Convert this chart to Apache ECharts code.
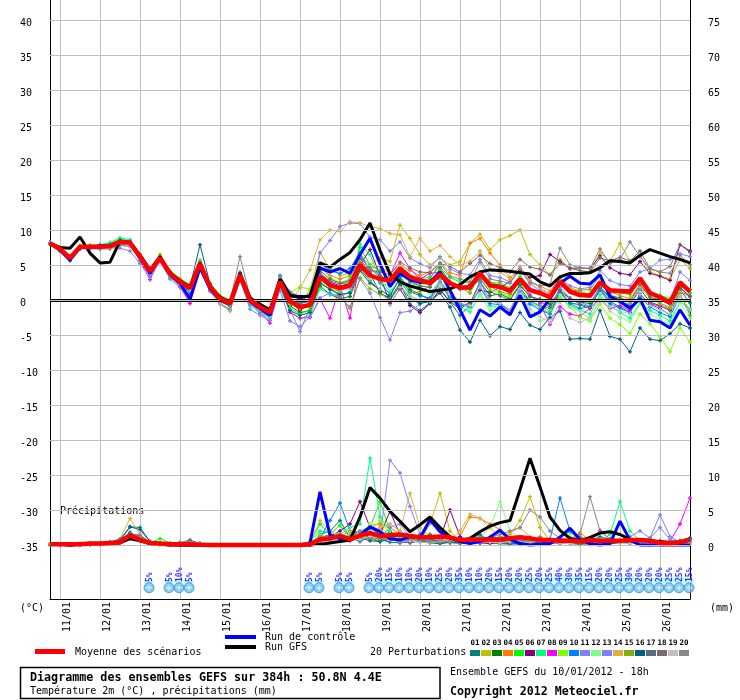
<!DOCTYPE html>
<html><head><meta charset="utf-8">
<script src="https://cdn.jsdelivr.net/npm/echarts@6/dist/echarts.min.js"></script>
<style>html,body{margin:0;padding:0;background:#fff}#c{width:740px;height:700px}</style>
</head><body><div id="c"></div>
<script>
// ---------- DATA ----------
const RUN_START_UTC = Date.UTC(2012, 0, 10, 18); // 10/01/2012 18h
const STEP_HOURS = 6;
const STEP_COUNT = 65;               // 0..384h
const TEMP_TICKS = [-35,-30,-25,-20,-15,-10,-5,0,5,10,15,20,25,30,35,40];
const PRECIP_TICKS = [0,5,10,15,20,25,30,35,40,45,50,55,60,65,70,75];
const MEMBER_NAMES = ['01','02','03','04','05','06','07','08','09','10','11','12','13','14','15','16','17','18','19','20'];
const MEMBER_COLORS = ['#008080','#c0c000','#008000','#ff8000','#00ff00','#800080','#00ff80','#ff00ff','#80ff00','#0080ff',
                       '#8080ff','#80ff80','#8080ff','#e0b040','#80b000','#006080','#507080','#806870','#c0c0c0','#888888'];

const TEMP_MEAN = [8.1,7.3,6.0,7.6,7.6,7.6,7.7,8.3,8.2,6.2, 4.1,6.0,3.8,2.6,1.7,5.2,1.9,0.2,-0.5,3.6,
  0.0,-1.0,-1.8,2.6,-0.2,-1.0,-0.7,3.3,2.1,1.7, 2.1,5.0,3.5,3.0,2.8,4.5,3.3,2.8,2.4,3.6,
  2.4,1.8,1.8,3.8,2.1,1.9,1.3,3.0,1.4,1.0, 0.4,2.6,1.2,0.7,0.6,2.5,1.4,1.3,1.2,3.1, 1.0,0.4,-0.4,2.5,1.2];
const TEMP_CONTROL = [8.1,7.1,5.7,7.5,7.6,7.7,7.8,8.3,8.2,6.0, 3.8,6.0,3.6,2.4,0.1,4.6,1.6,0.0,-0.6,3.4,
  -0.2,-1.2,-2.2,2.8,0.7,0.3,0.6,4.6,4.0,4.5, 3.8,6.5,8.8,5.2,1.9,3.8,2.9,2.5,2.6,4.0,
  1.4,-1.4,-4.3,-1.4,-2.3,-1.0,-2.1,0.7,-2.4,-1.7, 0.2,2.4,3.4,2.4,2.3,3.6,0.5,-0.2,-1.2,0.2, -2.9,-3.1,-4.0,-1.4,-3.6];
const TEMP_GFS = [8.1,7.5,7.4,9.0,6.7,5.3,5.4,8.4,8.2,6.4, 4.3,6.2,3.9,2.8,1.9,5.3,2.0,0.4,-0.3,3.8,
  0.3,-0.6,-1.4,3.0,0.6,0.5,0.5,5.3,4.7,5.8, 6.8,8.6,11.0,7.1,3.7,2.6,2.0,1.6,1.2,1.4,
  1.6,2.2,3.3,4.0,4.3,4.2,4.1,3.9,3.7,2.6, 2.0,3.3,3.8,3.8,3.9,4.6,5.6,5.5,5.3,6.4, 7.2,6.7,6.2,5.8,5.3];

const T01 = [8.2,7.2,5.6,7.5,7.7,7.9,8.0,8.6,8.5,6.5, 4.3,6.2,4.0,2.9,1.4,5.6,2.2,0.4,-0.3,3.9, 0.3,-1.2,-2.2,2.8,0.2,
  -0.5,-0.2,3.6,2.5,1.5, 1.8,5.6,3.8,1.0,0.2, 2.3,-0.6,-1.5,-0.4,1.5, -0.3,-2.2,-0.8,1.8,0.0, -0.6,-1.5,1.8,-0.2,-0.8, -1.6,1.2,-0.4,-0.7,-1.2, 1.6,-0.2,-1.0,-1.8,0.9, -0.6,-1.2,-2.2,1.4,-0.4];
const T02 = [8.0,7.4,6.3,7.7,7.8,7.5,7.6,8.2,8.0,6.0, 3.9,5.8,3.5,2.2,1.5,5.0,1.6,-0.2,-0.8,3.3, -0.3,-1.3,-2.0,2.3,0.3,
  -0.8,1.5,6.8,4.5,3.5, 3.8,6.2,5.0,6.0,5.5, 10.7,8.8,6.5,5.0,6.0, 5.0,5.5,8.1,9.4,7.2, 8.6,9.2,10.0,6.5,5.0, 3.6,5.8,4.5,4.2,4.0, 6.8,5.5,8.1,5.5,6.4, 4.0,3.5,3.0,5.8,4.5];
const T03 = [8.1,7.0,5.8,7.3,7.5,7.4,7.5,8.1,8.4,6.3, 4.0,5.9,3.4,2.0,1.2,4.8,1.5,-0.2,-0.9,3.2, -0.4,-1.5,-2.4,2.2,-0.8,
  -1.8,-1.5,2.0,0.8,0.2, 0.5,4.2,2.4,1.5,0.5, 3.3,1.5,0.8,0.0,2.4, 0.3,-0.9,-0.5,2.6,0.6, 0.9,0.2,2.2,0.5,0.1, -0.6,1.4,0.2,-0.3,-0.5, 1.8,0.2,-0.2,-0.8,1.6, -0.3,-0.8,-1.5,1.7,0.5];
const T04 = [8.0,7.5,6.2,7.8,7.5,7.7,7.9,8.4,8.0,5.8, 3.7,6.5,3.9,2.7,2.0,5.3,2.0,0.3,-0.4,3.8, 0.2,-0.8,-1.6,2.9,0.4,
  0.3,0.6,4.6,3.5,3.0, 3.5,5.5,4.5,4.8,3.8, 5.0,4.2,3.5,4.0,5.3, 3.9,3.5,8.1,8.8,6.7, 5.0,3.2,4.2,2.6,2.0, 1.3,3.1,1.8,1.2,0.8, 2.6,1.2,0.6,0.2,2.2, 0.8,0.2,-0.4,2.0,1.5];
const T05 = [8.2,7.1,5.9,7.6,7.4,7.8,8.1,8.7,8.3,5.5, 3.8,5.7,3.2,2.3,1.3,4.9,1.4,0.0,-0.7,3.0, -0.2,-1.6,-2.5,2.0,-1.2,
  -2.0,-1.4,2.6,1.5,1.3, 3.2,7.5,5.0,4.2,3.0, 4.6,3.4,3.0,3.3,4.8, 3.2,2.6,2.4,4.0,2.5, 2.4,1.7,3.4,1.6,1.1, 0.6,2.9,1.5,0.9,0.8, 2.7,1.3,1.0,0.8,3.0, 1.2,0.7,0.2,2.5,1.0];
const T06 = [8.1,7.3,6.1,7.7,7.7,7.6,7.8,8.5,8.1,6.4, 4.4,6.1,3.9,2.6,1.8,5.4,2.0,0.4,-0.3,3.7, 0.1,-0.9,-1.7,2.7,-0.3,
  -1.5,-0.5,3.8,2.6,2.0, 2.3,5.0,7.2,3.5,-0.5, 1.6,-0.8,-1.8,-0.5,1.5, -0.2,-1.3,-0.3,1.4,1.1, 1.8,2.6,4.2,3.2,3.5, 6.5,5.5,4.5,4.6,4.5, 6.3,4.6,3.8,3.6,5.5, 3.8,3.4,2.8,7.9,7.0];
const T07 = [8.0,7.2,5.7,7.4,7.6,7.9,8.2,8.9,8.6,5.9, 3.6,5.8,3.3,2.1,1.0,4.7,1.2,-0.5,-1.3,2.8, -0.8,-1.9,-2.6,1.7,-1.6,
  -2.6,-2.2,1.6,0.8,0.5, 1.2,8.0,6.5,3.0,1.2, 2.8,0.6,-0.2,-0.3,2.4, 0.1,-1.1,-1.7,0.8,-0.8, -1.1,-2.0,1.5,-0.5,-1.0, -2.0,0.4,-0.8,-1.4,-2.0, 0.8,-0.8,-1.8,-2.6,-0.4, -1.5,-2.2,-3.0,-0.3,-1.2];
const T08 = [8.2,7.4,6.1,7.6,7.5,7.6,7.6,8.0,8.1,5.6, 2.9,6.0,3.6,1.9,-0.5,4.8,1.6,-0.1,-0.8,3.3, -0.5,-1.7,-3.3,2.4,-1.8,
  -2.6,-2.5,0.2,-2.6,2.0, -2.6,5.8,4.0,2.6,3.5, 6.7,4.5,3.0,3.8,4.0, 2.5,1.6,2.2,3.5,1.9, 1.7,1.0,2.8,0.7,-0.5, -3.5,-1.0,-2.0,-2.3,-1.2, 0.2,-1.2,-0.8,-1.5,0.6, -0.5,-0.9,-1.3,1.2,0.6];
const T09 = [8.0,7.5,6.0,7.5,7.9,7.7,7.6,8.3,8.0,6.6, 4.6,6.3,4.2,3.1,2.2,5.7,2.4,0.7,0.0,4.0, 0.5,-0.5,-1.4,3.1,1.0,
  1.9,1.5,5.0,3.2,2.5, 3.0,5.5,4.0,2.5,2.0, 4.0,2.8,2.0,2.5,4.4, 2.5,1.8,1.4,3.2,1.5, 1.0,0.5,2.8,0.0,-1.0, -1.5,0.4,-1.0,-2.5,-3.0, -0.6,-2.6,-3.5,-4.8,-2.0, -3.4,-5.2,-7.4,-4.0,-6.0];
const T10 = [8.1,7.3,5.8,7.6,7.7,7.6,7.7,8.2,8.3,6.0, 3.8,5.9,3.7,2.4,1.0,5.0,1.8,0.2,-0.7,3.5, -0.1,-1.1,-2.0,3.5,1.0,
  0.4,0.8,5.2,4.2,3.8, 4.5,6.8,4.0,2.5,0.8, 3.0,1.2,0.6,0.3,2.9, 0.5,-0.6,-1.0,1.8,-0.5, -0.7,-1.5,1.3,-0.6,-1.4, -2.0,1.0,-0.5,-1.2,-1.0, 1.4,-0.5,-1.2,-1.8,0.5, -1.0,-1.8,-2.4,0.6,-1.5];
const T11 = [8.0,7.0,5.7,7.3,7.3,7.3,7.4,8.0,7.9,5.7, 3.5,5.6,3.3,2.3,1.3,4.8,1.3,-0.6,-1.4,3.1, -0.6,-1.6,-2.4,2.2,-1.4,
  -4.5,-1.0,6.7,8.5,10.5, 11.0,10.9,9.0,8.6,7.0, 8.3,6.0,5.2,4.6,6.2, 4.4,3.8,3.6,5.8,3.5, 3.2,2.6,4.4,2.3,1.4, 1.0,3.2,2.0,1.6,1.8, 4.2,2.8,2.2,2.0,4.0, 4.5,5.7,5.8,6.6,6.2];
const T12 = [8.2,7.3,6.0,7.7,7.6,7.5,7.8,8.4,8.2,6.3, 4.2,6.1,3.9,2.7,1.6,5.1,1.7,0.0,-0.7,3.4, -0.3,-1.4,-2.3,2.5,-0.6,
  -1.2,-0.8,2.8,2.0,1.8, 2.3,5.3,3.6,2.8,1.9, 3.8,2.4,1.8,0.9,2.8, 1.0,-0.3,-1.4,0.7,-1.5, -1.0,-1.8,1.5,-1.8,-3.0, -2.4,0.8,-1.0,-1.6,-2.8, 0.3,-1.6,-2.5,-3.1,-0.6, -2.0,-2.8,-3.5,-0.4,-2.6];
const T13 = [8.1,7.2,5.9,7.5,7.6,7.5,7.5,7.4,7.0,5.2, 3.2,5.5,3.0,1.8,0.6,4.5,1.3,-0.4,-1.5,2.9, -1.3,-2.2,-2.9,1.4,-3.0,
  -3.8,-2.4,0.3,1.0,0.5, -1.0,3.0,1.0,-2.5,-5.7, -1.8,-1.6,-0.6,0.2,2.6, 0.2,-0.5,-0.8,2.5,0.0, -0.4,-1.5,1.4,-0.2,-0.8, -1.2,1.8,0.3,-0.3,-0.9, 2.0,0.3,-0.3,-0.6,1.6, 1.0,0.5,-0.3,4.0,2.8];
const T14 = [8.1,7.4,6.2,7.6,7.5,7.7,7.8,8.3,8.0,6.1, 3.9,5.9,3.5,2.3,1.6,5.3,1.6,-0.6,-1.6,3.4, -0.2,-1.0,-1.9,2.7,-0.4,
  1.7,4.3,8.6,10.0,9.8, 11.2,11.0,10.5,10.2,9.5, 9.3,6.2,8.8,7.0,7.8, 6.2,5.0,5.5,7.0,4.4, 4.0,3.0,4.8,2.8,1.8, 0.8,2.8,1.6,1.0,0.6, 2.6,0.8,0.2,-0.3,1.8, 0.3,-0.5,-1.0,1.2,0.4];
const T15 = [8.0,7.3,6.1,7.6,7.6,7.6,7.6,8.1,8.1,6.1, 4.2,6.1,3.7,2.5,1.8,5.3,2.0,0.3,-0.5,3.7, 0.0,-0.9,-1.7,2.5,-0.5,
  -1.2,-1.0,3.3,1.8,0.4, -1.2,3.2,1.6,0.8,0.2, 2.5,1.0,1.2,2.0,4.2, 2.6,1.8,1.0,3.6,1.9, 1.2,0.8,2.7,1.5,1.0, 0.2,2.4,1.3,1.4,1.5, 3.5,1.0,1.2,0.8,3.0, 0.5,-0.5,-1.2,0.9,-2.2];
const T16 = [8.2,7.1,5.7,7.4,7.6,7.8,7.9,8.5,8.3,6.3, 4.3,6.2,4.0,2.6,1.9,7.9,2.3,0.5,-0.2,3.9, 0.0,-1.0,-2.0,2.2,-1.5,
  -2.2,-1.8,2.4,1.5,0.8, 1.0,4.4,2.8,1.2,0.0, 2.1,0.2,-0.5,-0.2,1.0, -1.0,-4.3,-6.0,-2.9,-5.1, -3.8,-4.2,-1.8,-3.6,-4.2, -2.5,-1.6,-5.6,-5.5,-5.6, -1.5,-5.2,-5.6,-7.4,-4.0, -5.6,-5.8,-4.8,-3.4,-4.0];
const T17 = [8.0,7.2,5.9,7.6,7.6,7.6,7.7,8.3,8.3,6.2, 4.0,6.0,3.8,2.6,1.7,5.2,1.9,0.1,-0.6,3.6, -0.1,-1.1,-1.9,2.5,-0.3,
  -0.6,0.2,4.2,3.0,2.4, 2.8,6.0,4.6,3.5,2.8, 4.2,2.6,2.0,1.8,4.6, 2.6,1.6,1.6,3.0,1.2, 0.6,0.0,2.0,0.6,-0.2, -1.0,1.2,0.2,-0.6,-1.0, 1.5,0.6,0.3,-0.2,2.2, 0.4,0.0,-0.6,1.8,0.5];
const T18 = [8.1,7.3,6.1,7.6,7.6,7.6,7.8,8.3,8.2,6.3, 4.1,5.9,3.8,2.6,1.8,5.2,1.9,0.3,-0.4,3.7, 0.1,-0.9,-1.7,2.7,0.0,
  -0.5,0.0,3.8,2.7,2.3, 2.5,5.3,4.2,4.0,3.6, 5.4,4.6,4.0,3.9,5.2, 4.8,4.0,5.2,6.4,5.2, 4.6,4.0,5.8,4.7,4.4, 3.6,5.2,4.6,4.2,4.0, 6.0,5.6,6.1,5.6,7.0, 4.5,4.0,4.8,7.9,6.8];
const T19 = [8.1,7.2,6.0,7.6,7.5,7.4,7.4,7.8,7.6,5.9, 4.0,5.8,3.6,2.5,1.5,5.0,1.7,0.2,-0.6,3.5, -0.1,-1.2,-2.0,2.5,-0.2,
  -1.0,-0.5,3.0,2.0,1.4, 1.6,4.6,2.9,1.5,-0.8, 1.8,0.6,0.0,-0.2,2.2, 0.8,0.0,-0.8,1.8,0.0, -0.5,-1.4,1.6,-1.3,-2.4, -3.2,-0.3,-2.6,-3.2,-2.5, -0.2,-1.0,-1.6,-2.0,0.8, -0.8,-1.4,-2.0,0.6,-1.4];
const T20 = [8.1,7.3,6.2,7.5,7.4,7.3,7.3,7.8,7.7,6.2, 4.1,6.0,4.0,2.9,1.9,5.5,2.1,0.4,-0.3,6.2, 0.5,-0.6,-1.3,3.3,1.2,
  0.4,0.5,3.5,2.4,1.6, 1.8,6.2,4.5,3.2,2.6, 4.3,3.3,2.8,3.0,5.3, 3.4,3.0,2.6,5.4,3.0, 2.7,2.4,4.5,2.5,2.0, 2.2,7.4,5.0,4.6,4.5, 7.3,5.2,5.8,8.3,6.2, 4.4,4.0,3.8,6.4,5.0];

const PRECIP_MEAN = [0.1,0.1,0.1,0.1,0.2,0.2,0.3,0.4,1.4,0.7, 0.3,0.2,0.1,0.1,0.1,0.05,0,0,0,0,
  0,0,0,0,0,0,0.1,0.8,0.95,1.3, 0.8,1.4,1.7,1.3,1.4,1.5,1.3,1.1,1.1,1.2,
  1.1,0.7,0.8,0.8,0.8,0.8,0.95,1.1,0.95,0.7, 0.7,0.6,0.6,0.5,0.7,0.6,0.6,0.6,0.7,0.7, 0.6,0.3,0.3,0.4,0.8];
const PRECIP_CONTROL = [0.1,0.1,0,0.1,0.1,0.2,0.3,0.4,1.2,0.8, 0.3,0.2,0.1,0,0,0,0,0,0,0,
  0,0,0,0,0,0,0.3,7.6,1.4,0.9, 0.7,1.4,2.6,1.9,0.9,0.7,1.2,1.0,3.6,1.9,
  1.0,0.5,0.2,0.5,1.1,2.1,0.8,0.2,0,0.1, 0.2,1.1,2.4,0.8,0.2,0,0.2,3.4,0.7,0, 0,0,0,0,0];
const PRECIP_GFS = [0.1,0.1,0,0.1,0.1,0.2,0.2,0.3,0.9,0.6, 0.2,0.1,0,0,0,0,0,0,0,0,
  0,0,0,0,0,0,0,0.1,0.3,0.5, 0.7,4.0,8.2,6.7,4.8,3.4,1.9,2.9,4.0,2.5,
  1.2,0.5,0.95,1.9,2.7,3.2,3.5,7.9,12.4,8.3, 4.0,2.1,0.95,0.6,1.1,1.7,1.9,1.5,0.8,0.7, 0.6,0.5,0.3,0.3,0.7];

const P01 = [0.1,0,0.1,0.1,0.2,0.2,0.3,0.6,2.6,2.5, 0.5,0.3,0.2,0.1,0.2,0.1,0,0,0,0, 0,0,0,0,0,
  0,0.2,1.5,2.0,3.5, 1.0,0.5,1.2,0.8,0.4, 0.3,0.6,1.0,0.5,0.2, 0.4,0.3,0.8,1.5,0.6, 0.2,0.1,0.3,0.2,0.1, 0.5,0.4,0.3,0.2,0.6, 1.2,0.8,0.4,0.3,0.2, 0.1,0.3,0.2,0.5,0.9];
const P02 = [0,0.1,0,0.1,0.1,0.2,0.2,0.4,1.0,0.6, 0.2,0.3,0.1,0,0,0,0,0,0,0, 0,0,0,0,0,
  0,0.3,1.2,0.8,1.0, 0.6,0.9,1.0,2.5,1.5, 1.0,0.8,0.6,3.0,7.4, 2.0,0.5,0.3,0.6,1.2, 0.8,1.5,3.5,6.9,2.5, 0.6,0.3,0.4,0.2,0.8, 0.5,0.3,0.6,0.4,0.3, 0.2,0.4,0.3,0.5,0.4];
const P03 = [0.1,0.1,0.1,0,0.1,0.3,0.2,0.5,1.2,0.8, 0.3,0.2,0.1,0,0,0,0,0,0,0, 0,0,0,0,0,
  0,0,0.8,1.2,0.8, 1.5,2.0,1.0,0.5,1.8, 1.2,0.6,0.4,1.5,0.8, 0.4,0.2,0.3,0.5,0.3, 0.2,0.6,0.4,0.2,0.3, 0.8,0.4,0.2,0.1,0.3, 0.5,0.2,0.3,0.4,0.2, 0.1,0.2,0.1,0.3,0.2];
const P04 = [0,0.1,0.1,0.1,0.2,0.2,0.3,0.5,1.5,1.0, 0.4,0.2,0.1,0,0,0,0,0,0,0, 0,0,0,0,0,
  0,0.3,1.0,1.5,1.2, 2.0,1.8,2.8,3.0,2.5, 1.5,0.8,0.6,0.4,0.5, 0.8,1.2,4.0,3.8,3.0, 2.2,1.0,0.6,0.8,1.2, 0.5,0.3,0.8,1.8,0.6, 0.4,0.3,0.5,0.6,0.4, 0.3,0.5,0.2,0.3,0.4];
const P05 = [0.1,0,0.1,0.2,0.1,0.2,0.4,0.6,1.8,0.9, 0.3,0.9,0.3,0.2,0.1,0,0,0,0,0, 0,0,0,0,0,
  0,0.4,3.0,1.5,2.8, 1.0,2.0,2.5,6.2,2.0, 1.0,0.8,1.5,0.6,0.4, 0.5,0.3,0.2,0.6,0.8, 1.2,0.6,0.3,0.2,0.3, 0.4,0.6,0.3,0.2,0.4, 0.6,0.3,0.5,0.8,0.3, 0.2,0.3,0.2,0.1,0.3];
const P06 = [0,0.1,0,0.1,0.1,0.1,0.2,0.4,1.0,0.7, 0.2,0.1,0.1,0,0,0,0,0,0,0, 0,0,0,0,0,
  0,0.1,0.8,1.2,2.0, 3.0,6.2,2.5,1.5,4.8, 1.5,0.8,0.6,0.5,0.9, 5.0,1.2,0.4,0.3,0.2, 0.4,0.6,0.3,0.5,0.8, 0.3,0.2,0.4,0.3,0.6, 0.5,0.3,0.4,0.2,0.3, 0.4,0.3,0.2,0.1,0.5];
const P07 = [0.1,0.1,0,0.1,0.2,0.2,0.3,0.7,1.6,1.2, 0.3,0.2,0.1,0.1,0,0,0,0,0,0, 0,0,0,0,0,
  0,0.5,2.0,1.8,1.5, 2.5,3.0,12.4,4.0,2.0, 1.2,0.8,0.6,0.3,0.4, 0.3,0.2,0.5,0.8,0.4, 0.6,0.3,0.5,1.0,0.6, 0.4,1.2,1.8,0.8,0.5, 0.6,1.5,6.2,2.0,0.6, 0.4,0.5,0.3,0.2,0.3];
const P08 = [0,0,0.1,0.1,0.2,0.1,0.3,0.5,1.4,1.5, 0.3,0.1,0.1,0,0,0,0,0,0,0, 0,0,0,0,0,
  0,0.1,0.5,0.8,1.0, 0.6,1.5,2.0,1.2,0.8, 0.5,0.3,0.6,0.4,0.8, 0.5,0.3,0.4,0.3,0.6, 0.8,0.5,0.3,0.2,0.4, 0.3,0.5,0.6,0.8,0.4, 2.1,0.8,0.5,0.3,0.4, 0.3,0.2,0.5,3.0,6.7];
const P09 = [0.1,0,0.1,0,0.1,0.2,0.4,0.5,1.2,0.9, 0.3,0.2,0.1,0,0,0,0,0,0,0, 0,0,0,0,0,
  0,0.3,1.5,1.0,1.2, 0.8,1.5,2.0,3.5,1.5, 0.6,0.4,1.0,0.8,0.5, 0.3,0.6,0.4,0.8,0.5, 0.3,0.2,0.4,0.6,0.3, 0.2,0.4,0.3,0.5,1.0, 0.8,0.4,0.3,0.5,0.3, 0.2,0.6,0.4,0.3,0.2];
const P10 = [0,0.1,0.1,0.1,0.2,0.2,0.3,0.6,1.8,1.0, 0.4,0.2,0.1,0,0,0,0,0,0,0, 0,0,0,0,0,
  0,0.2,1.0,3.5,6.0, 2.0,1.0,2.5,1.5,1.2, 0.8,0.6,0.5,0.4,0.6, 0.4,0.3,0.5,1.2,0.8, 0.4,0.3,0.2,0.5,0.6, 0.8,6.7,2.0,0.8,0.5, 0.4,0.3,0.5,0.6,0.3, 0.2,0.3,0.5,0.4,0.3];
const P11 = [0.1,0.1,0,0.1,0.1,0.3,0.2,0.5,1.1,0.8, 0.2,0.1,0.1,0,0,0,0,0,0,0, 0,0,0,0,0,
  0,0.2,0.8,1.0,1.5, 1.2,2.0,1.5,1.0,12.1, 10.3,5.5,1.5,0.8,0.5, 0.4,0.6,0.3,0.5,0.4, 0.3,0.5,0.8,0.6,0.4, 0.3,0.2,0.4,0.6,0.3, 0.5,0.8,0.4,0.6,0.5, 1.0,4.3,1.2,0.4,0.3];
const P12 = [0,0.1,0.1,0.1,0.1,0.2,0.3,0.4,1.3,0.8, 0.3,0.2,0.1,0,0,0,0,0,0,0, 0,0,0,0,0,
  0,0.3,1.2,0.8,1.0, 1.5,1.0,3.0,2.0,1.5, 1.0,0.8,0.5,0.6,0.5, 0.8,0.6,0.4,1.0,2.5, 6.2,2.0,0.8,0.6,0.4, 0.3,0.5,0.8,0.6,0.4, 0.3,0.5,0.4,0.6,0.3, 0.2,0.4,0.8,0.4,0.3];
const P13 = [0.1,0,0.1,0.1,0.2,0.2,0.3,0.5,1.5,1.0, 0.3,0.2,0.1,0.1,0,0,0,0,0,0, 0,0,0,0,0,
  0,0.1,1.0,0.6,0.8, 1.2,0.8,1.5,1.0,2.5, 3.0,1.2,0.6,0.5,0.8, 0.4,0.3,0.6,0.5,0.8, 1.0,0.6,0.4,0.8,0.5, 0.4,0.6,0.5,0.3,0.4, 0.6,0.8,0.5,1.2,2.0, 1.0,2.5,0.8,0.4,0.3];
const P14 = [0.1,0.1,0.1,0.2,0.2,0.3,0.4,0.9,3.8,1.5, 0.4,0.2,0.1,0,0,0,0,0,0,0, 0,0,0,0,0,
  0,0.3,3.5,2.0,1.2, 2.0,1.0,1.5,2.5,3.0, 2.0,7.4,2.5,1.2,0.6, 0.8,2.0,4.4,3.8,2.5, 1.0,1.8,2.5,1.2,0.8, 0.5,0.6,1.2,0.8,0.5, 0.4,0.3,0.6,0.5,0.3, 0.4,0.3,0.5,0.4,0.2];
const P15 = [0,0.1,0,0.1,0.1,0.2,0.3,0.4,1.0,0.7, 0.2,0.2,0.1,0,0,0,0,0,0,0, 0,0,0,0,0,
  0,0.2,1.0,0.8,1.5, 1.0,1.2,0.8,0.6,1.0, 0.8,0.5,1.2,0.8,0.4, 0.5,0.3,0.6,0.4,0.5, 0.8,0.4,0.3,0.5,0.6, 0.3,0.5,0.8,1.2,0.6, 0.4,0.3,0.6,0.5,0.4, 0.8,0.5,0.3,0.2,0.4];
const P16 = [0.1,0,0.1,0.1,0.2,0.2,0.4,0.8,2.6,2.2, 0.5,0.3,0.2,0.3,0.7,0.2,0,0,0,0, 0,0,0,0,0,
  0,0.1,0.6,1.0,1.2, 0.8,1.0,0.6,0.5,0.8, 0.5,0.4,0.6,0.3,0.2, 0.4,0.3,0.2,0.4,0.6, 0.3,0.2,0.1,0.3,0.4, 0.2,0.5,0.3,0.2,0.1, 0.3,0.2,0.4,0.3,0.2, 0.1,0.2,0.4,0.6,1.0];
const P17 = [0.1,0.1,0.1,0.1,0.1,0.2,0.3,0.6,1.6,1.3, 0.4,0.2,0.1,0.1,0,0,0,0,0,0, 0,0,0,0,0,
  0,0.2,0.8,1.2,0.9, 1.0,1.5,1.2,0.8,1.0, 0.6,0.8,1.5,0.8,0.5, 0.4,0.6,0.5,0.8,0.6, 0.5,0.4,0.6,1.0,0.5, 0.4,0.3,0.5,0.8,0.6, 0.5,0.4,0.6,0.5,0.4, 0.3,0.5,0.4,0.6,0.8];
const P18 = [0,0.1,0.1,0.1,0.2,0.2,0.3,0.5,1.2,0.9, 0.3,0.2,0.1,0,0,0,0,0,0,0, 0,0,0,0,0,
  0,0.3,1.0,1.5,0.8, 1.2,0.8,1.0,1.5,1.2, 0.8,0.6,0.5,0.8,0.6, 0.5,0.4,0.8,0.6,0.5, 0.4,0.3,0.6,0.8,1.0, 0.6,0.4,0.5,0.3,0.5, 0.8,0.6,0.4,0.5,0.3, 0.4,0.6,0.5,0.3,0.4];
const P19 = [0.1,0,0.1,0.1,0.1,0.2,0.3,0.5,1.2,0.9, 0.4,0.3,0.3,0.4,0.3,0.2,0,0,0,0, 0,0,0,0,0,
  0,0.2,0.6,0.5,0.8, 0.6,0.8,1.2,1.0,0.8, 0.5,0.6,0.4,0.3,0.5, 0.6,0.4,0.3,0.5,0.4, 0.3,0.5,0.4,0.3,0.6, 0.4,0.3,0.2,0.4,0.5, 0.3,0.4,0.3,0.2,0.3, 0.2,0.3,0.4,0.2,0.3];
const P20 = [0.1,0.1,0.1,0.1,0.2,0.2,0.3,0.6,1.5,1.2, 0.3,0.2,0.2,0.4,0.5,0.2,0,0,0,0, 0,0,0,0,0,
  0,0.2,1.2,0.8,1.5, 1.0,1.2,1.8,1.0,0.8, 0.6,1.0,0.8,0.5,0.4, 0.6,0.4,0.8,0.6,1.0, 1.5,2.0,2.5,5.0,4.0, 2.0,1.0,0.6,1.5,6.9, 2.0,0.8,0.5,0.6,0.4, 0.3,0.5,0.3,0.4,0.5];

const TEMP_MEMBERS = [T01,T02,T03,T04,T05,T06,T07,T08,T09,T10,T11,T12,T13,T14,T15,T16,T17,T18,T19,T20];
const PRECIP_MEMBERS = [P01,P02,P03,P04,P05,P06,P07,P08,P09,P10,P11,P12,P13,P14,P15,P16,P17,P18,P19,P20];

// snow probability row (step index, %)
const SNOW_STEP = [10,12,13,14,26,27,29,30,32,33,34,35,36,37,38,39,40,41,42,43,44,45,46,47,48,49,50,51,52,53,54,55,56,57,58,59,60,61,62,63,64];
const SNOW_PCT  = [5,5,10,5,5,5,5,5,5,20,15,10,10,20,10,25,20,35,10,10,20,15,20,20,25,20,25,40,30,35,15,20,20,25,30,20,20,20,25,25,15];

// ---------- LAYOUT ----------
const FONT = '"DejaVu Sans Mono", "Liberation Mono", monospace';
const PX_PER_DEG = 7;
const Y_MAX = 300 / PX_PER_DEG;      // plot top at pixel 0, 0°C at pixel 300
const Y_MIN = -299 / PX_PER_DEG;     // plot bottom at pixel 599
const PRECIP_OFFSET = 35;            // 0 mm sits on -35 °C
const ICON_ROW = -41.1;
const LABEL_ROW = -40.0;
const BAND_BASE = -40.45;
const HALF_PX = 1 / PX_PER_DEG;

const CATEGORIES = [];
for (let i = 0; i < STEP_COUNT; i++) {
  const d = new Date(RUN_START_UTC + i * STEP_HOURS * 3600000);
  const dd = String(d.getUTCDate()).padStart(2,'0');
  const mm = String(d.getUTCMonth()+1).padStart(2,'0');
  const hh = String(d.getUTCHours()).padStart(2,'0');
  CATEGORIES.push(dd + '/' + mm + ' ' + hh + 'h');
}
const isMidnight = (idx) => CATEGORIES[idx].endsWith(' 00h');

const PLUS = 'path://M2,0H4V2H6V4H4V6H2V4H0V2H2Z';

const series = [];
series.push({
  type:'line', data: CATEGORIES.map(()=>null), z:1, silent:true, symbol:'none',
  markLine:{silent:true, symbol:['none','none'], label:{show:false}, animation:false,
    lineStyle:{color:'#c0c0c0', type:'solid', width:1},
    data: TEMP_TICKS.map(v=>({yAxis:v}))}
});
series.push({
  type:'line', data: CATEGORIES.map(()=>null), z:1.5, silent:true, symbol:'none',
  markLine:{silent:true, symbol:['none','none'], label:{show:false}, animation:false,
    lineStyle:{color:'#000', type:'solid', width:1},
    data: [{yAxis: HALF_PX}, {yAxis: -HALF_PX}]}
});

function memberLine(data, k, axis) {
  return {type:'line', name:MEMBER_NAMES[k], yAxisIndex:axis, data, symbol:PLUS, symbolSize:4, showSymbol:true,
    showAllSymbol:true, z:2, silent:true, animation:false,
    lineStyle:{width:1, color:MEMBER_COLORS[k]}, itemStyle:{color:MEMBER_COLORS[k]}};
}
TEMP_MEMBERS.forEach((d,k)=>series.push(memberLine(d,k,0)));
PRECIP_MEMBERS.forEach((d,k)=>series.push(memberLine(d,k,1)));

function mainLine(name, data, axis, color, width, z) {
  return {type:'line', name, yAxisIndex:axis, data, symbol:'none', z, silent:true, animation:false,
    lineStyle:{width, color}, itemStyle:{color}};
}
series.push(mainLine('Run de contrôle', TEMP_CONTROL, 0, '#0000ff', 3, 3));
series.push(mainLine('Run de contrôle', PRECIP_CONTROL, 1, '#0000ff', 3, 3));
series.push(mainLine('Run GFS', TEMP_GFS, 0, '#000000', 3, 4));
series.push(mainLine('Run GFS', PRECIP_GFS, 1, '#000000', 3, 4));
series.push(mainLine('Moyenne des scénarios', TEMP_MEAN, 0, '#ff0000', 4.5, 5));
series.push(mainLine('Moyenne des scénarios', PRECIP_MEAN, 1, '#ff0000', 4.5, 5));

// snow probability band
series.push({
  type:'custom', yAxisIndex:0, z:2, silent:true, animation:false,
  data: SNOW_STEP.map((s,k)=>[s, SNOW_PCT[k]]),
  renderItem(params, api) {
    const p = api.coord([api.value(0), BAND_BASE]);
    const h = 2 + api.value(1) * 0.17;
    return {type:'rect', shape:{x:p[0]-6, y:p[1]-h, width:10, height:h}, style:{fill:'#c0fbff'}};
  }
});
// snow icons
series.push({
  type:'scatter', yAxisIndex:0, z:3, silent:true, animation:false,
  data: SNOW_STEP.map(s=>[s, ICON_ROW]),
  symbol:'circle', symbolSize:10, symbolOffset:[-1,0],
  itemStyle:{color:'#6ec0ee', borderColor:'#2f8fd8', borderWidth:1}
});
series.push({
  type:'scatter', yAxisIndex:0, z:4, silent:true, animation:false,
  data: SNOW_STEP.map(s=>[s, ICON_ROW]),
  symbol:'path://M3,0H4V3H7V4H4V7H3V4H0V3H3Z', symbolSize:6, symbolOffset:[-1,0],
  itemStyle:{color:'#ffffff', opacity:0.8}
});
series.push({
  type:'scatter', yAxisIndex:0, z:4, silent:true, animation:false,
  data: SNOW_STEP.map((s,k)=>[s, LABEL_ROW, SNOW_PCT[k]]),
  symbolSize:0,
  label:{show:true, position:[0,0], rotate:90, align:'left', verticalAlign:'middle', offset:[-2,0],
    formatter:(p)=>p.value[2] + '%', color:'#0000ff', fontFamily:FONT, fontSize:8, fontWeight:'bold'}
});

const txt = (text, x, y, opts={}) => ({
  type:'text', x, y, silent:true,
  style:Object.assign({text, fill:'#000', font:(opts.bold?'bold ':'') + (opts.size||10) + 'px ' + FONT,
    align:opts.align||'left', verticalAlign:'middle', textAlign:opts.align||'left', textVerticalAlign:'middle'})
});
const graphics = [
  txt('Précipitations', 60, 511),
  txt('(°C)', 20, 608),
  txt('(mm)', 710, 608),
  {type:'rect', shape:{x:35, y:649, width:30, height:5}, style:{fill:'#ff0000'}, silent:true},
  txt('Moyenne des scénarios', 75, 652),
  {type:'rect', shape:{x:225, y:635, width:31, height:4}, style:{fill:'#0000ff'}, silent:true},
  txt('Run de contrôle', 265, 637.5),
  {type:'rect', shape:{x:225, y:645, width:31, height:4}, style:{fill:'#000000'}, silent:true},
  txt('Run GFS', 265, 647.5),
  txt('20 Perturbations', 370, 652),
  {type:'rect', shape:{x:20.5, y:667.5, width:419.5, height:31}, style:{fill:'none', stroke:'#000', lineWidth:1.5}, silent:true},
  txt('Diagramme des ensembles GEFS sur 384h : 50.8N 4.4E', 30, 677.5, {bold:true, size:11.7}),
  txt('Température 2m (°C) , précipitations (mm)', 30, 691.5),
  txt('Ensemble GEFS du 10/01/2012 - 18h', 450, 672.5),
  txt('Copyright 2012 Meteociel.fr', 450, 691.5, {bold:true, size:11.6})
];
MEMBER_NAMES.forEach((n,k)=>{
  graphics.push({type:'rect', shape:{x:470+11*k, y:650, width:10, height:6}, style:{fill:MEMBER_COLORS[k]}, silent:true});
  graphics.push(txt(n, 475+11*k, 643.5, {bold:true, size:7.5, align:'center'}));
});

const yLabel = {align:'left', verticalAlign:'top', lineHeight:6, color:'#000', fontFamily:FONT, fontSize:10};

const chart = echarts.init(document.getElementById('c'), null, {renderer:'canvas'});
chart.setOption({
  animation:false,
  backgroundColor:'#ffffff',
  grid:{left:50, right:50, top:0, bottom:101, containLabel:false},
  xAxis:{
    type:'category', data:CATEGORIES, boundaryGap:false,
    axisLine:{show:true, onZero:false, lineStyle:{color:'#000', width:1}},
    axisTick:{show:false},
    splitLine:{show:true, interval:(idx)=>isMidnight(idx), lineStyle:{color:'#c0c0c0', width:1}},
    axisLabel:{interval:(idx)=>isMidnight(idx), rotate:90, margin:3, formatter:(v)=>v.slice(0,5),
      verticalAlign:'top', padding:[2,0,0,0], color:'#000', fontFamily:FONT, fontSize:10}
  },
  yAxis:[
    {type:'value', position:'left', min:Y_MIN, max:Y_MAX, scale:false,
      axisLine:{show:true, onZero:false, lineStyle:{color:'#000', width:1}},
      axisTick:{show:false}, splitLine:{show:false},
      axisLabel:Object.assign({customValues:TEMP_TICKS, margin:30}, yLabel)},
    {type:'value', position:'right', min:Y_MIN+PRECIP_OFFSET, max:Y_MAX+PRECIP_OFFSET, scale:false,
      axisLine:{show:true, onZero:false, lineStyle:{color:'#000', width:1}},
      axisTick:{show:false}, splitLine:{show:false},
      axisLabel:Object.assign({customValues:PRECIP_TICKS, margin:18}, yLabel)}
  ],
  series,
  graphic:graphics
});
</script>
</body></html>
